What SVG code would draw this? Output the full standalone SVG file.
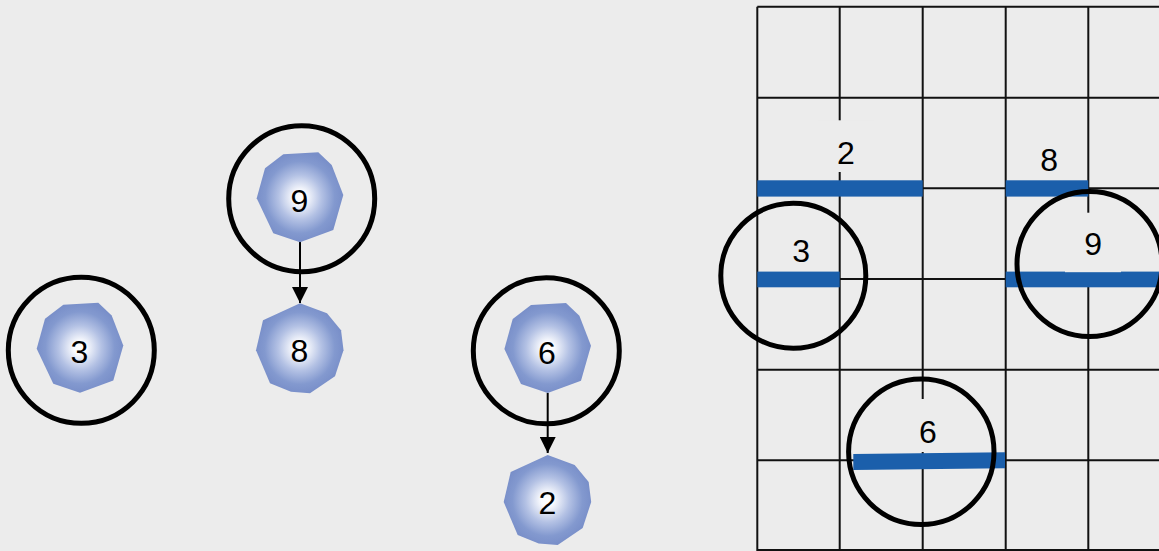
<svg xmlns="http://www.w3.org/2000/svg" width="1159" height="551" viewBox="0 0 1159 551">
<defs>
<radialGradient id="g" cx="0.5" cy="0.5" r="0.5">
<stop offset="0" stop-color="#ffffff"/>
<stop offset="0.15" stop-color="#fafbfe"/>
<stop offset="0.5" stop-color="#b3c1e4"/>
<stop offset="0.8" stop-color="#8399cf"/>
<stop offset="1" stop-color="#798fc9"/>
</radialGradient>
<path id="octA" d="M-16.7,-43.2 L18.3,-45.2 L31.7,-32.5 L43.3,-2.5 L33.3,32.5 L0,44.8 L-26.7,35.8 L-43.3,0.8 L-35,-29.2 Z"/>
<path id="octB" d="M0,-45 L27,-35 L41,-18 L43.5,2 L35,28 L10,45 L-9,43.5 L-30,35 L-44,2 L-37,-28 Z"/>
<marker id="arr" markerUnits="userSpaceOnUse" markerWidth="16" markerHeight="16" viewBox="0 0 16 16" refX="16" refY="8" orient="auto">
<path d="M0,0 L16,8 L0,16 Z" fill="#000"/>
</marker>
<style>
.oct{fill:url(#g);}
.t{font-family:"Liberation Sans",Arial,sans-serif;font-size:32px;fill:#000;text-anchor:middle;}
.ring{fill:none;stroke:#000;stroke-width:5;}
.grid{stroke:#111;stroke-width:2;fill:none;}
.bar{fill:#1b5fab;}
.lb{fill:#ececec;}
.edge{stroke:#000;stroke-width:2;fill:none;marker-end:url(#arr);}
</style>
</defs>
<rect width="1159" height="551" fill="#ececec"/>

<g id="connectors">
<line class="edge" x1="300" y1="242" x2="300" y2="303"/>
<line class="edge" x1="547.7" y1="393" x2="547.7" y2="453"/>
</g>

<g id="node-3">
<use href="#octA" class="oct" x="80" y="348"/>
<text class="t" x="79.5" y="363">3</text>
<circle class="ring" cx="81.3" cy="350.3" r="73"/>
</g>
<g id="node-9">
<use href="#octA" class="oct" x="300" y="197.5"/>
<text class="t" x="299.5" y="212">9</text>
<circle class="ring" cx="301.7" cy="198.7" r="73"/>
</g>
<g id="node-8">
<use href="#octB" class="oct" x="300" y="348.3"/>
<text class="t" x="299.5" y="362">8</text>
</g>
<g id="node-6">
<use href="#octA" class="oct" x="547.7" y="348.3"/>
<text class="t" x="547" y="363.5">6</text>
<circle class="ring" cx="546.3" cy="350.8" r="73"/>
</g>
<g id="node-2">
<use href="#octB" class="oct" x="547.7" y="500"/>
<text class="t" x="547.3" y="514">2</text>
</g>

<g id="grid">
<path class="grid" d="M757.3,6.7 H1159 M757.3,97.7 H1159 M757.3,188.3 H1159 M757.3,279 H1159 M757.3,369.7 H1159 M757.3,460.3 H1159 M757.3,550 H1159 M757.3,6.7 V551 M839.7,6.7 V551 M922.7,6.7 V551 M1005.7,6.7 V551 M1088.3,6.7 V551"/>
</g>

<g id="bars">
<rect class="bar" x="757.3" y="180.3" width="165.4" height="16.3"/>
<rect class="bar" x="1005.7" y="180.3" width="82.6" height="16.3"/>
<rect class="bar" x="757.3" y="271.6" width="82.4" height="15.7"/>
<rect class="bar" x="1005.7" y="271.6" width="153.3" height="15.7"/>
<polygon class="bar" points="853.3,454 1005,452.3 1005,468.3 853.3,470"/>
</g>

<g id="labels">
<rect class="lb" x="818" y="120.3" width="56" height="51.7"/>
<text class="t" x="845.8" y="163.7">2</text>
<rect class="lb" x="1021" y="122" width="56" height="52"/>
<text class="t" x="1049.2" y="170.7">8</text>
<rect class="lb" x="773" y="218" width="56" height="52"/>
<text class="t" x="801.2" y="261.8">3</text>
<rect class="lb" x="1065" y="212.7" width="56" height="59.5"/>
<text class="t" x="1093.2" y="254.5">9</text>
<rect class="lb" x="900" y="399" width="56" height="53"/>
<text class="t" x="927.8" y="443.2">6</text>
</g>

<g id="grid-rings">
<circle class="ring" cx="793.3" cy="275.7" r="72.5"/>
<circle class="ring" cx="1089.5" cy="264" r="72.5"/>
<circle class="ring" cx="921.3" cy="451.8" r="72.7"/>
</g>
</svg>
